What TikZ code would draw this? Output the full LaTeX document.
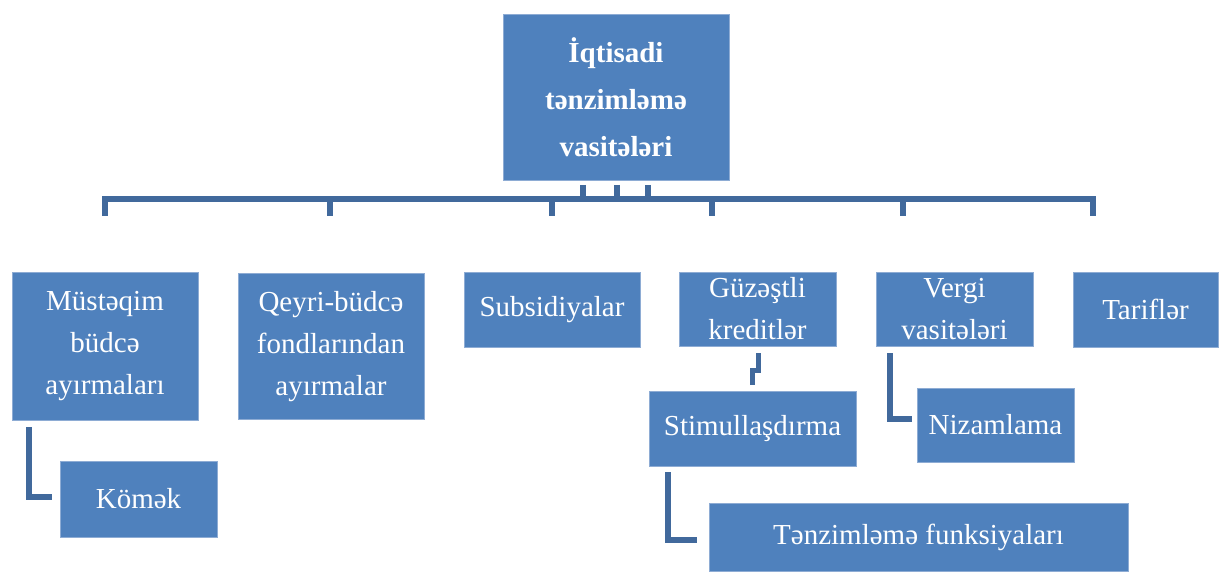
\documentclass[tikz,border=0pt]{standalone}
\usepackage{fontspec}
\setmainfont{Liberation Serif}
\definecolor{boxblue}{HTML}{4F81BD}
\definecolor{boxedge}{HTML}{8EACD4}
\definecolor{linkblue}{HTML}{41699C}
\tikzset{
  box/.style={fill=boxblue, draw=boxedge, line width=0.8pt, text=white, inner sep=0pt,
    align=center, font=\fontsize{29}{42}\selectfont},
  topbox/.style={box, font=\fontsize{29}{47}\selectfont\bfseries},
  link/.style={draw=linkblue, line width=6pt, line join=miter},
  elbow/.style={draw=linkblue, line width=5.5pt, line join=miter}
}
\begin{document}
\begin{tikzpicture}[x=1pt,y=-1pt]
\useasboundingbox (0,0) rectangle (1219,572);
% boxes
\node[topbox, minimum width=226, minimum height=166] (top) at (616,97) {İqtisadi\\tənzimləmə\\vasitələri};
\node[box, minimum width=186, minimum height=148] (A) at (105,346) {Müstəqim\\büdcə\\ayırmaları};
\node[box, minimum width=186, minimum height=146] (B) at (331,346.5) {Qeyri-büdcə\\fondlarından\\ayırmalar};
\node[box, minimum width=176, minimum height=75] (C) at (552,309.5) {Subsidiyalar};
\node[box, minimum width=157, minimum height=74] (D) at (757.5,309) {Güzəştli\\kreditlər};
\node[box, minimum width=157, minimum height=74] (E) at (954.5,309) {Vergi\\vasitələri};
\node[box, minimum width=145, minimum height=75] (F) at (1145.5,309.5) {Tariflər};
\node[box, minimum width=157, minimum height=76] (G) at (138.5,499) {Kömək};
\node[box, minimum width=207, minimum height=75] (H) at (752.5,428.5) {Stimullaşdırma};
\node[box, minimum width=157, minimum height=74] (I) at (995.5,425) {Nizamlama};
\node[box, minimum width=419, minimum height=68] (J) at (918.5,537) {Tənzimləmə funksiyaları};
% bar coordinates
\coordinate (t1) at (105,216); \coordinate (t2) at (330,216); \coordinate (t3) at (552,216);
\coordinate (t4) at (712,216); \coordinate (t5) at (903,216); \coordinate (t6) at (1093,216);
\coordinate (u1) at (583,185); \coordinate (u2) at (617,185); \coordinate (u3) at (648,185);
% main bar
\draw[link] (t1) -- (t1 |- 0,199) -- (t6 |- 0,199) -- (t6);
\foreach \t in {t2,t3,t4,t5} \draw[link] (\t) -- (\t |- 0,199);
\foreach \u in {u1,u2,u3} \draw[link] (\u) -- (\u |- 0,199);
% elbow connectors
\coordinate (a1) at (29,427); \coordinate (a2) at (52,497);
\draw[elbow] (a1) -- (a1 |- a2) -- (a2);
\coordinate (h1) at (668,472); \coordinate (h2) at (697,540);
\draw[elbow] (h1) -- (h1 |- h2) -- (h2);
\coordinate (e1) at (890,353); \coordinate (e2) at (912,419);
\draw[elbow] (e1) -- (e1 |- e2) -- (e2);
\coordinate (d1) at (758.5,353); \coordinate (d2) at (752.5,385);
\draw[draw=linkblue, line width=5pt, line join=miter] (d1) -- (758.5,370) -- (752.5,370) -- (d2);
\end{tikzpicture}
\end{document}
